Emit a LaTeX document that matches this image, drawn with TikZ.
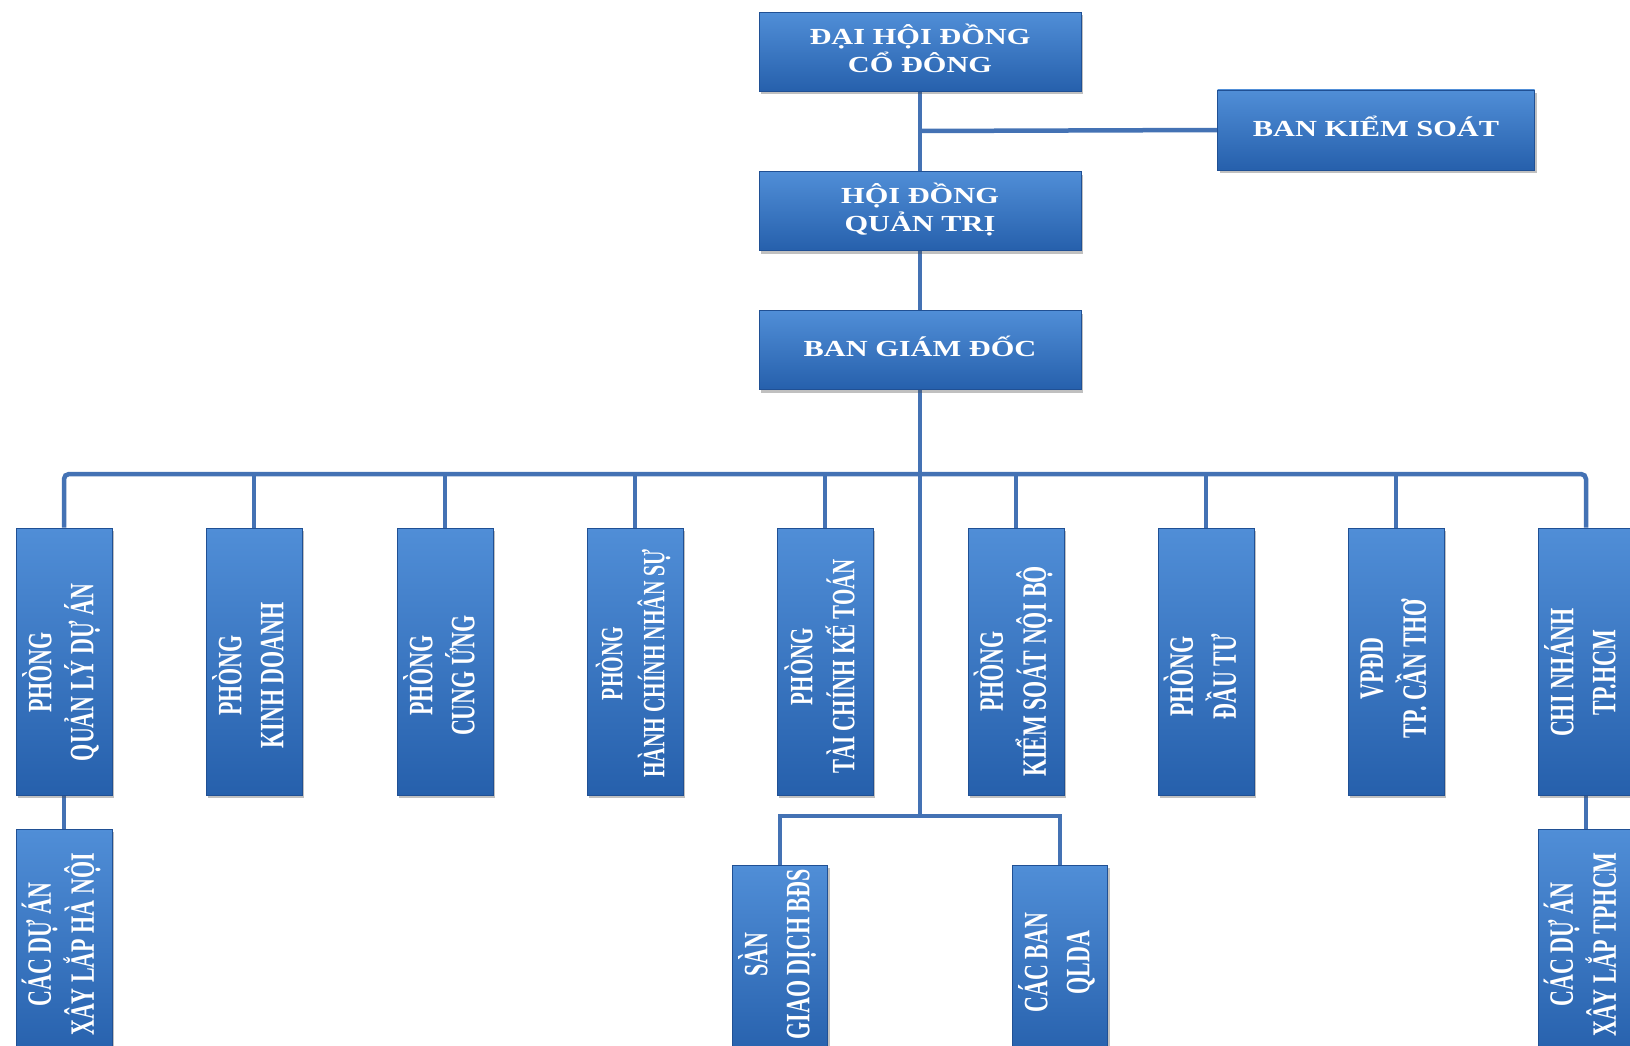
\documentclass[tikz,border=0pt]{standalone}
\usepackage{fontspec}
\setmainfont{Liberation Serif}
\usetikzlibrary{shadows,backgrounds}
\definecolor{boxtop}{RGB}{80,142,215}
\definecolor{boxbot}{RGB}{38,96,172}
\definecolor{boxline}{RGB}{32,80,148}
\definecolor{connc}{RGB}{68,114,180}
\newcommand{\hlab}[1]{\fontsize{23}{25}\selectfont\bfseries\scalebox{1.32}[1]{\begin{tabular}{@{}c@{}}#1\end{tabular}}}
\newcommand{\vlab}[3][22]{\fontsize{#1}{27}\selectfont\bfseries\rotatebox{90}{\scalebox{1}[1.55]{\begin{tabular}{@{}c@{}}#3\end{tabular}}\hspace*{#2}}}
\tikzset{
  orgbox/.style={rectangle, top color=boxtop, bottom color=boxbot, draw=boxline,
    line width=0.8pt, inner sep=0pt, text=white,
    drop shadow={shadow xshift=2pt, shadow yshift=-3pt, opacity=0.35, fill=black!70}},
  hbox/.style={orgbox, minimum width=322pt, minimum height=79pt},
  kbox/.style={orgbox, minimum width=317pt, minimum height=80pt},
  vbox/.style={orgbox, minimum width=96pt, minimum height=267pt},
  lowbox/.style={orgbox, minimum width=96pt, minimum height=231pt},
  midbox/.style={orgbox, minimum width=95pt, minimum height=195pt},
  connline/.style={draw=connc, line width=4.5pt},
}
\begin{document}
\begin{tikzpicture}[x=1pt,y=-1pt]
\useasboundingbox (0,0) rectangle (1630,1046);
\clip (0,0) rectangle (1630,1046);

% top boxes
\node[hbox] (dh) at (920,52) {\hlab{ĐẠI HỘI ĐỒNG\\CỔ ĐÔNG}};
\node[hbox] (hd) at (920,211) {\hlab{HỘI ĐỒNG\\QUẢN TRỊ}};
\node[hbox] (bgd) at (920,350) {\hlab{BAN GIÁM ĐỐC}};
\node[kbox] (bks) at (1376,130) {\hlab{BAN KIỂM SOÁT}};

% first row
\node[vbox] (p1) at (64,661.5) {\vlab{22pt}{PHÒNG\\QUẢN LÝ DỰ ÁN}};
\node[vbox] (p2) at (254,661.5) {\vlab{28pt}{PHÒNG\\KINH DOANH}};
\node[vbox] (p3) at (445,661.5) {\vlab{28pt}{PHÒNG\\CUNG ỨNG}};
\node[vbox] (p4) at (635,661.5) {\vlab[20]{4pt}{PHÒNG\\HÀNH CHÍNH NHÂN SỰ}};
\node[vbox] (p5) at (825,661.5) {\vlab[21]{10pt}{PHÒNG\\TÀI CHÍNH KẾ TOÁN}};
\node[vbox] (p6) at (1016,661.5) {\vlab{20pt}{PHÒNG\\KIỂM SOÁT NỘI BỘ}};
\node[vbox] (p7) at (1206,661.5) {\vlab{30pt}{PHÒNG\\ĐẦU TƯ}};
\node[vbox] (p8) at (1396,661.5) {\vlab{14pt}{VPĐD\\TP. CẦN THƠ}};
\node[vbox] (p9) at (1586,661.5) {\vlab{22pt}{CHI NHÁNH\\TP.HCM}};

% second row
\node[lowbox] (b1) at (64,944.5) {\vlab{0pt}{CÁC DỰ ÁN\\XÂY LẮP HÀ NỘI}};
\node[midbox] (san) at (780,962.5) {\vlab{-16pt}{SÀN\\GIAO DỊCH BĐS}};
\node[midbox] (qlda) at (1060,962.5) {\vlab{0pt}{CÁC BAN\\QLDA}};
\node[lowbox] (b9) at (1586,944.5) {\vlab{0pt}{CÁC DỰ ÁN\\XÂY LẮP TPHCM}};

\coordinate (j1) at (920,131);
\coordinate (bus) at (920,474);
\coordinate (sb) at (920,816);

\begin{scope}[on background layer]
\fill[white] (0,0) rectangle (1630,1046);
\draw[connline] (dh.south) -- (hd.north);
\draw[connline] (j1) -- (bks.west);
\draw[connline] (hd.south) -- (bgd.north);
\draw[connline] (bgd.south) -- (sb);
\draw[connline, rounded corners=5pt] (p1.north) -- (p1.north |- bus) -- (p9.north |- bus) -- (p9.north);
\foreach \n in {p2,p3,p4,p5,p6,p7,p8}
  \draw[connline] (\n.north |- bus) -- (\n.north);
\draw[connline] (san.north) |- (sb) -| (qlda.north);
\draw[connline] (p1.south) -- (b1.north);
\draw[connline] (p9.south) -- (b9.north);
\end{scope}
\end{tikzpicture}
\end{document}
